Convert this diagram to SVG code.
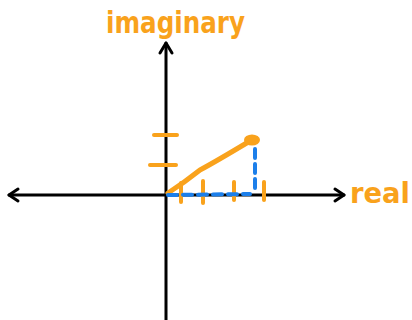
<svg xmlns="http://www.w3.org/2000/svg" width="412" height="320" viewBox="0 0 412 320">
<style>
.ax{stroke:#000;stroke-width:3;fill:none;stroke-linecap:round;stroke-linejoin:round}
.or{stroke:#F9A21C;stroke-width:4;fill:none;stroke-linecap:round;stroke-linejoin:round}
.bl{stroke:#1C7FEA;stroke-width:4;fill:none;stroke-linecap:round;stroke-dasharray:9 6}
.lbl{fill:#F9A21C;font-family:"DejaVu Sans",sans-serif;font-weight:bold}
</style>
<rect width="412" height="320" fill="#fff"/>
<g id="connectors">
<path class="ax" d="M166 320 L166 43"/>
<path class="ax" d="M160 53 L166 43 L172 53"/>
<path class="ax" d="M9 195 L344 195"/>
<path class="ax" d="M18 189 L9 195 L18 201"/>
<path class="ax" d="M335 189 L344 195 L335 201"/>
</g>
<g id="ticks">
<path class="or" d="M154 135 L177 135"/>
<path class="or" d="M150 165 L176 165"/>
<path class="or" d="M181 183 L181 202"/>
<path class="or" d="M203 181 L203 203"/>
<path class="or" d="M234 182 L234 200"/>
<path class="or" d="M264 182 L264 200"/>
</g>
<g id="vector">
<path class="or" style="stroke-width:5" d="M168 193 Q185 182 200 170 Q215 162 250 141"/>
<ellipse cx="252" cy="140" rx="8" ry="5.5" fill="#F9A21C"/>
<path class="bl" d="M255 149 L255 189"/>
<path class="bl" d="M168 195 L250 194"/>
</g>
<g id="label-imaginary">
<text class="lbl" x="106" y="33" font-size="30" textLength="139" lengthAdjust="spacingAndGlyphs">imaginary</text>
</g>
<g id="label-real">
<text class="lbl" x="350" y="203" font-size="28" textLength="60" lengthAdjust="spacingAndGlyphs">real</text>
</g>
</svg>
